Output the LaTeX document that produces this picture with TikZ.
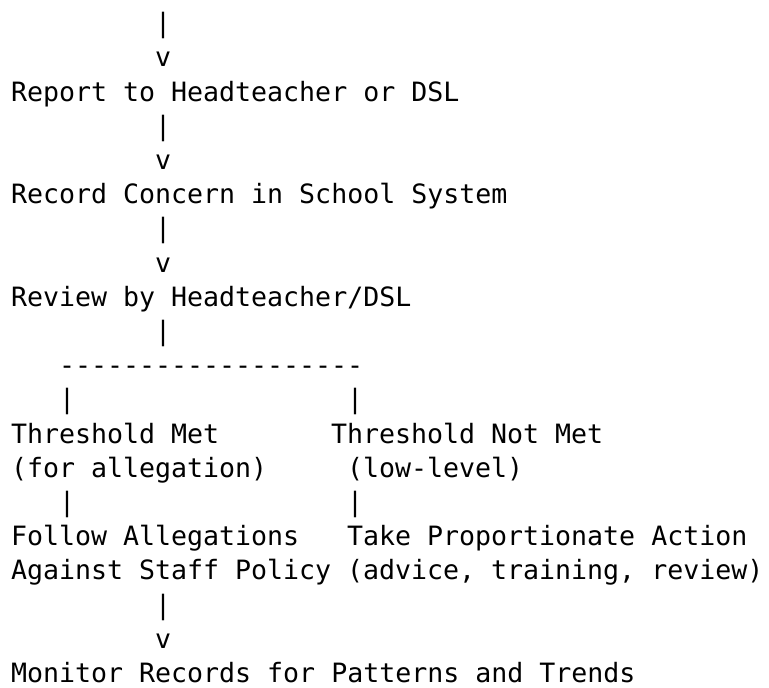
\documentclass[tikz,border=0pt]{standalone}
\usepackage{fontspec}
\setmonofont{DejaVu Sans Mono}
\begin{document}
\begin{tikzpicture}[x=1pt,y=1pt,
  ascii/.style={anchor=base west,inner sep=0pt,outer sep=0pt,text=black,
    font=\ttfamily\fontsize{26.6}{34.2}\selectfont}]
\useasboundingbox (0,0) rectangle (769,688);
% line 1-3
\node[ascii] (p1) at (155,655.2) {|};
\node[ascii] (v1) at (155,621.0) {v};
\node[ascii] (report) at (11,586.8) {Report to Headteacher or DSL};
% line 4-6
\node[ascii] (p2) at (155,552.6) {|};
\node[ascii] (v2) at (155,518.4) {v};
\node[ascii] (record) at (11,484.2) {Record Concern in School System};
% line 7-9
\node[ascii] (p3) at (155,450.0) {|};
\node[ascii] (v3) at (155,415.8) {v};
\node[ascii] (review) at (11,381.6) {Review by Headteacher/DSL};
% line 10-12
\node[ascii] (p4) at (155,347.4) {|};
\node[ascii] (split) at (59,313.2) {-\kern0pt-\kern0pt-\kern0pt-\kern0pt-\kern0pt-\kern0pt-\kern0pt-\kern0pt-\kern0pt-\kern0pt-\kern0pt-\kern0pt-\kern0pt-\kern0pt-\kern0pt-\kern0pt-\kern0pt-\kern0pt-};
\node[ascii] (p5l) at (59,279.0) {|};
\node[ascii] (p5r) at (347,279.0) {|};
% line 13-14
\node[ascii] (metA) at (11,244.8) {Threshold Met};
\node[ascii] (notA) at (331,244.8) {Threshold Not Met};
\node[ascii] (metB) at (11,210.6) {(for allegation)};
\node[ascii] (notB) at (347,210.6) {(low-level)};
% line 15
\node[ascii] (p6l) at (59,176.4) {|};
\node[ascii] (p6r) at (347,176.4) {|};
% line 16-17
\node[ascii] (followA) at (11,142.2) {Follow Allegations};
\node[ascii] (takeA) at (347,142.2) {Take Proportionate Action};
\node[ascii] (followB) at (11,108.0) {Against Staff Policy};
\node[ascii] (takeB) at (347,108.0) {(advice, training, review)};
% line 18-20
\node[ascii] (p7) at (155,73.8) {|};
\node[ascii] (v4) at (155,39.6) {v};
\node[ascii] (monitor) at (11,5.4) {Monitor Records for Patterns and Trends};
\end{tikzpicture}
\end{document}
